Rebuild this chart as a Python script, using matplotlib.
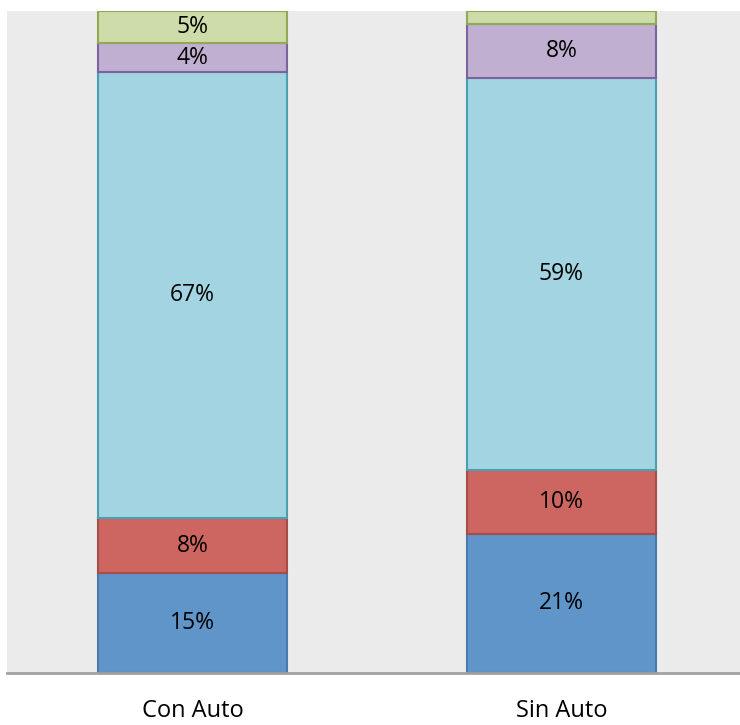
import matplotlib.pyplot as plt
import numpy as np

categories = ["Con Auto", "Sin Auto"]
# stacked segments, bottom to top (percent)
seg1 = [15.1, 21.0]
seg2 = [8.3, 9.7]
seg3 = [67.4, 59.2]
seg4 = [4.3, 8.1]
seg5 = [4.9, 2.0]

fills = ["#5F95C9", "#CD6660", "#A2D4E2", "#C1AFD1", "#CDDCA8"]
edges = ["#4A7AAB", "#A84C48", "#4A9FB1", "#7B63A0", "#8FAA52"]

plt.rcParams['font.family'] = ['Open Sans', 'DejaVu Sans']

fig = plt.figure(figsize=(7.4, 7.25), dpi=100)
ax = fig.add_axes([7/740, 52/725, 733/740, 662/725])
ax.set_facecolor("#EBEBEB")

x = np.arange(len(categories))
bottom = np.zeros(len(categories))
for vals, fc, ec in zip([seg1, seg2, seg3, seg4, seg5], fills, edges):
    vals = np.array(vals)
    ax.bar(x, vals, width=0.512, bottom=bottom, color=fc, edgecolor=ec, linewidth=1.5)
    for xi, b, v in zip(x, bottom, vals):
        if v >= 3:
            ax.text(xi, b + v / 2, f"{v:.0f}%", ha="center", va="center", fontsize=16.5, color="black")
    bottom += vals

ax.set_xlim(-0.503, 1.484)
ax.set_ylim(0, 100)
ax.set_yticks([])
ax.set_xticks(x)
ax.set_xticklabels(categories, fontsize=17)
ax.tick_params(axis="x", length=0, pad=19)
for s in ["top", "right", "left"]:
    ax.spines[s].set_visible(False)
ax.spines["bottom"].set_color("#A0A0A0")
ax.spines["bottom"].set_linewidth(2)

fig.savefig("out.png", dpi=100)
